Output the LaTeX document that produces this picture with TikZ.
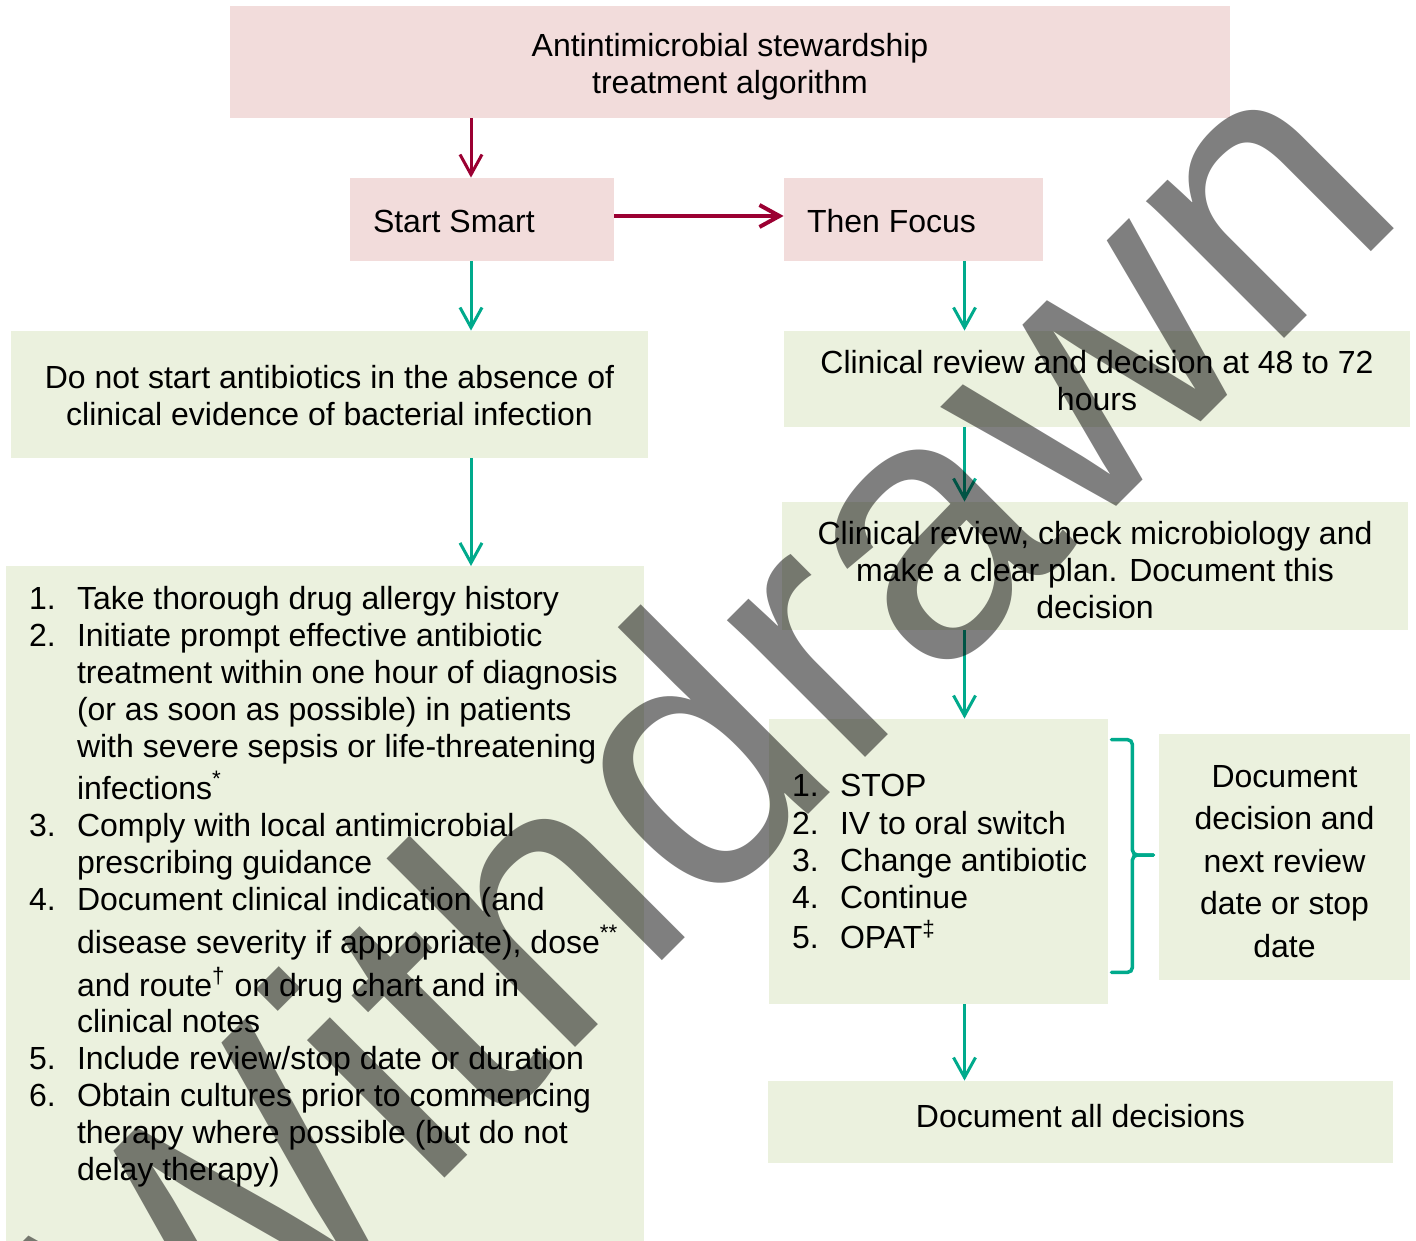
\documentclass[tikz,border=0pt]{standalone}
\usepackage{fontspec}
\setmainfont{Liberation Sans}
\usetikzlibrary{arrows.meta,calc}
\definecolor{boxpink}{RGB}{242,220,219}
\definecolor{boxgreen}{RGB}{235,241,222}
\definecolor{arrred}{RGB}{155,0,50}
\definecolor{arrteal}{RGB}{0,170,140}
\newcommand{\supmark}[1]{\smash{\textsuperscript{#1}}}
\tikzset{
  pinkbox/.style={fill=boxpink, draw=none, inner sep=0pt},
  greenbox/.style={fill=boxgreen, draw=none, inner sep=0pt},
  boxtext/.style={inner sep=0pt, align=center},
  lefttext/.style={inner sep=0pt, anchor=west},
  listtext/.style={inner sep=0pt, anchor=base west},
  redarrow/.style={draw=arrred, line width=1.5pt, -{Straight Barb[length=10pt,width=11pt]}},
  tealarrow/.style={draw=arrteal, line width=1.5pt, -{Straight Barb[length=10pt,width=11pt]}},
  bracestyle/.style={draw=arrteal, line width=1.75pt, rounded corners=2.5pt, line cap=round},
  watermark/.style={inner sep=0pt, anchor=base, rotate=45, text=black, text opacity=0.5,
    font=\fontsize{184}{184}\selectfont}
}
\begin{document}
\begin{tikzpicture}[x=0.5pt, y=-0.5pt, font=\fontsize{16}{18.5}\selectfont]
\useasboundingbox (0,0) rectangle (1416,1240);
\clip (0,0) rectangle (1416,1240);

% boxes
\node[pinkbox, minimum width=500pt, minimum height=56pt] (title) at (730,62) {};
\node[boxtext] (titletext) at ([yshift=-2.25pt]title.center)
  {Antintimicrobial stewardship\\treatment algorithm};

\node[pinkbox, minimum width=132pt, minimum height=41.5pt] (smart) at (482,219.5) {};
\node[lefttext] (smarttext) at ([xshift=11.5pt, yshift=-1pt]smart.west) {Start Smart};
\node[pinkbox, minimum width=129.5pt, minimum height=41.5pt] (focus) at (913.5,219.5) {};
\node[lefttext] (focustext) at ([xshift=11.5pt, yshift=-1pt]focus.west) {Then Focus};

\node[greenbox, minimum width=318.5pt, minimum height=63.5pt] (nostart) at (329.5,394.5) {};
\node[boxtext] (nostarttext) at ([yshift=-0.5pt]nostart.center)
  {Do not start antibiotics in the absence of\\clinical evidence of bacterial infection};

\node[greenbox, minimum width=319pt, minimum height=342pt, anchor=north] (leftlist) at (325,566) {};
\node[listtext] (leftitems) at ($(leftlist.north west)+(23,43)$) {%
\begin{tabular}[t]{@{}p{24pt}@{}l@{}}
1. & Take thorough drug allergy history\\
2. & Initiate prompt effective antibiotic\\
   & treatment within one hour of diagnosis\\
   & (or as soon as possible) in patients\\
   & with severe sepsis or life-threatening\\[2.5pt]
   & infections\supmark{*}\\
3. & Comply with local antimicrobial\\
   & prescribing guidance\\
4. & Document clinical indication (and\\[3pt]
   & disease severity if appropriate), dose\supmark{**}\\[3pt]
   & and route\supmark{†} on drug chart and in\\[-0.5pt]
   & clinical notes\\
5. & Include review/stop date or duration\\
6. & Obtain cultures prior to commencing\\
   & therapy where possible (but do not\\
   & delay therapy)
\end{tabular}};

\node[greenbox, minimum width=313pt, minimum height=48pt] (review) at (1097,379) {};
\node[boxtext] (reviewtext) at ([yshift=-0.75pt]review.center)
  {Clinical review and decision at 48 to 72\\hours};
\node[greenbox, minimum width=313pt, minimum height=64pt] (micro) at (1095,566) {};
\node[boxtext] (microtext) at ([yshift=-2.25pt]micro.center)
  {Clinical review, check microbiology and\\make a clear plan. Document this\\decision};

\node[greenbox, minimum width=169.5pt, minimum height=142.5pt] (opts) at (938.5,861.5) {};
\node[listtext] (optitems) at ($(opts.north west)+(23,78)$) {%
\begin{tabular}[t]{@{}p{24pt}@{}l@{}}
1. & STOP\\[0.5pt]
2. & IV to oral switch\\
3. & Change antibiotic\\
4. & Continue\\[1.5pt]
5. & OPAT\supmark{‡}
\end{tabular}};

\node[greenbox, minimum width=125.5pt, minimum height=123pt] (docnext) at (1284.5,857) {};
\node[boxtext, font=\fontsize{16}{21.25}\selectfont] (docnexttext) at ([yshift=-2.25pt]docnext.center)
  {Document\\decision and\\next review\\date or stop\\date};

\node[greenbox, minimum width=312.5pt, minimum height=41pt] (docall) at (1080.5,1122) {};
\node[boxtext] (docalltext) at ([yshift=3pt]docall.center) {Document all decisions};

% connectors
\coordinate (colL) at (471,0);
\coordinate (colR) at (964.5,0);
\draw[redarrow] (title.south -| colL) -- (smart.north -| colL);
\draw[redarrow, line width=2pt] ($(smart.east)+(0,-3.5)$) -- ($(focus.west)+(0,-3.5)$);
\draw[tealarrow] (smart.south -| colL) -- (nostart.north -| colL);
\draw[tealarrow] (nostart.south -| colL) -- (leftlist.north -| colL);
\draw[tealarrow] (focus.south -| colR) -- (review.north -| colR);
\draw[tealarrow] (review.south -| colR) -- (micro.north -| colR);
\draw[tealarrow] (micro.south -| colR) -- (opts.north -| colR);
\draw[tealarrow] (opts.south -| colR) -- (docall.north -| colR);

% brace
\coordinate (bracetop) at ($(opts.north east)+(3,21)$);
\coordinate (bracebot) at ($(opts.south east)+(3,-32)$);
\coordinate (bracetip) at ($(opts.east)+(45,-6.5)$);
\draw[bracestyle] (bracetop) -- ($(bracetop)+(21,0)$) -- ($(bracetip)+(-21,0)$) -- (bracetip);
\draw[bracestyle] (bracetip) -- ($(bracetip)+(-21,0)$) -- ($(bracebot)+(21,0)$) -- (bracebot);

% watermark
\node[watermark] (wm) at (796.5,826.5) {Withdrawn};
\end{tikzpicture}
\end{document}
